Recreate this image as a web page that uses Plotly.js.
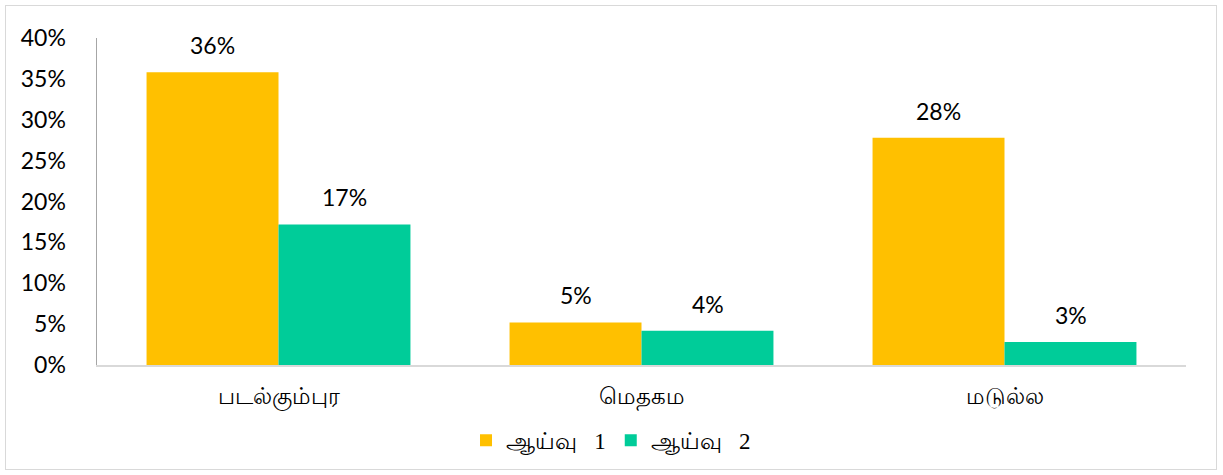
<!DOCTYPE html>
<html>
<head>
<meta charset="utf-8">
<script src="https://cdn.plot.ly/plotly-3.0.1.min.js"></script>
<style>
  html, body { margin: 0; padding: 0; background: #fff; }
  #wrap { position: relative; width: 1223px; height: 475px; }
  #chart { width: 1223px; height: 475px; }
  #frame { position: absolute; left: 5px; top: 5px; width: 1210px; height: 463px; border: 1px solid #D9D9D9; pointer-events: none; }
</style>
</head>
<body>
<div id="wrap"><div id="chart"></div><div id="frame"></div></div>
<script>
const categories = ["படல்கும்புர", "மெதகம", "மடுல்ல"];
const seriesNames = ["ஆய்வு   1", "ஆய்வு   2"];
const study1 = [0.358, 0.052, 0.278];
const study2 = [0.172, 0.042, 0.028];
const yTickVals = [0, 0.05, 0.10, 0.15, 0.20, 0.25, 0.30, 0.35, 0.40];
const yTickText = ["0%", "5%", "10%", "15%", "20%", "25%", "30%", "35%", "40%"];

const colors = ["#FFC000", "#00CC99"];
const series = [study1, study2];

const traces = series.map((vals, i) => ({
  type: "bar",
  name: seriesNames[i],
  x: categories,
  y: vals,
  marker: { color: colors[i] },
  hoverinfo: "skip"
}));

const annotations = [];
series.forEach((vals, i) => {
  vals.forEach((v, j) => {
    annotations.push({
      x: categories[j], y: v, xref: "x", yref: "y",
      text: Math.round(v * 100) + "%",
      showarrow: false, yanchor: "bottom",
      xshift: i === 0 ? -66 : 66, yshift: 11,
      font: { family: "Lato, 'Open Sans', sans-serif", size: 23, color: "#000" }
    });
  });
});

const layout = {
  width: 1223, height: 475,
  margin: { l: 97, r: 37, t: 38, b: 110 },
  paper_bgcolor: "#fff", plot_bgcolor: "#fff",
  barmode: "group", bargap: 0.273, bargroupgap: 0,
  showlegend: true,
  legend: {
    orientation: "h", x: 0.472, xanchor: "center", y: -0.23, yanchor: "middle",
    font: { family: "'Liberation Serif', serif", size: 23, color: "#000" },
    itemwidth: 30, traceorder: "normal"
  },
  xaxis: {
    type: "category", range: [-0.5, 2.5],
    showline: true, linecolor: "#D9D9D9", linewidth: 1.5,
    showgrid: false, zeroline: false, ticks: "",
    tickfont: { family: "'Liberation Serif', serif", size: 23, color: "#000" },
    ticklabelstandoff: 10
  },
  yaxis: {
    range: [0, 0.4], tickvals: yTickVals, ticktext: yTickText,
    showline: true, linecolor: "#A6A6A6", linewidth: 1.5,
    showgrid: false, zeroline: false, ticks: "",
    tickfont: { family: "Lato, 'Open Sans', sans-serif", size: 23, color: "#000" },
    ticklabelstandoff: 25
  },
  annotations: annotations
};

Plotly.newPlot("chart", traces, layout, { displayModeBar: false, staticPlot: true });
</script>
</body>
</html>
